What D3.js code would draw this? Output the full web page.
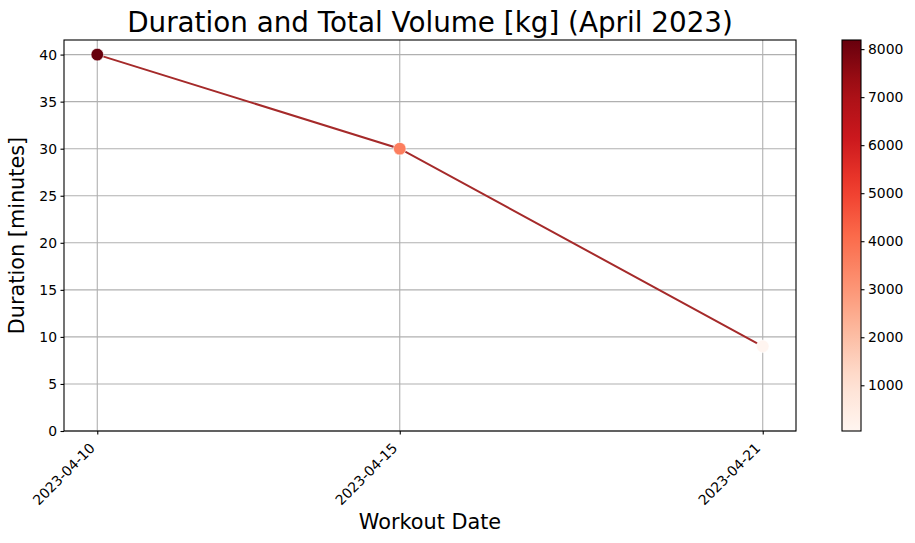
<!DOCTYPE html>
<html>
<head>
<meta charset="utf-8">
<script src="https://cdn.jsdelivr.net/npm/d3@7"></script>
<style>
  body { margin: 0; background: #fff; }
  svg { display: block; font-family: "DejaVu Sans", sans-serif; }
</style>
</head>
<body>
<svg id="chart" width="915" height="543"></svg>
<script>
// ---- data ----
const dates = ["2023-04-10", "2023-04-15", "2023-04-21"];
const durations = [40, 30, 9];
const volumes = [8190, 3600, 48];
const yTicks = [0, 5, 10, 15, 20, 25, 30, 35, 40];
const cbTicks = [1000, 2000, 3000, 4000, 5000, 6000, 7000, 8000];
const redsPalette = ["#fff5f0","#fee0d2","#fcbba1","#fc9272","#fb6a4a","#ef3b2c","#cb181d","#a50f15","#67000d"];

const svg = d3.select("#chart");
const W = 915, H = 543;
const L = 64, R = 796, T = 40, B = 431;
const cbL = 842, cbR = 861;

const parse = d3.utcParse("%Y-%m-%d");
const pts = dates.map((d, i) => ({ date: parse(d), dur: durations[i], vol: volumes[i], label: d }));

const dmin = d3.min(pts, d => d.date), dmax = d3.max(pts, d => d.date);
const pad = (dmax - dmin) * 0.05;
const x = d3.scaleUtc().domain([new Date(+dmin - pad), new Date(+dmax + pad)]).range([L, R]);
const yMaxData = d3.max(durations), yMinData = d3.min(durations);
const y = d3.scaleLinear().domain([0, yMaxData + 0.05 * (yMaxData - yMinData)]).range([B, T]);

const vmin = d3.min(volumes), vmax = d3.max(volumes);
const t = d3.scaleLinear().domain([vmin, vmax]).range([0, 1]);
const reds = d3.scaleLinear().domain(redsPalette.map((_, i) => i / (redsPalette.length - 1))).range(redsPalette).interpolate(d3.interpolateRgb);
const color = v => reds(Math.max(0, Math.min(1, t(v))));

// grid
const grid = svg.append("g");
yTicks.forEach(v => {
  grid.append("line").attr("x1", L).attr("x2", R).attr("y1", y(v)).attr("y2", y(v))
    .attr("stroke", "#b0b0b0").attr("stroke-width", 1.1);
});
pts.forEach(p => {
  grid.append("line").attr("x1", x(p.date)).attr("x2", x(p.date)).attr("y1", T).attr("y2", B)
    .attr("stroke", "#b0b0b0").attr("stroke-width", 1.1);
});

// line
const line = d3.line().x(d => x(d.date)).y(d => y(d.dur));
svg.append("path").datum(pts).attr("d", line).attr("fill", "none")
  .attr("stroke", "#a52a2a").attr("stroke-width", 2);

// points
svg.append("g").selectAll("circle").data(pts).join("circle")
  .attr("cx", d => x(d.date)).attr("cy", d => y(d.dur)).attr("r", 6.3)
  .attr("fill", d => color(d.vol)).attr("stroke", "#fff").attr("stroke-width", 0.6);

// frame
svg.append("rect").attr("x", L).attr("y", T).attr("width", R - L).attr("height", B - T)
  .attr("fill", "none").attr("stroke", "#000").attr("stroke-width", 1.1);

// y axis
const yAx = svg.append("g").attr("transform", `translate(${L},0)`)
  .call(d3.axisLeft(y).tickValues(yTicks).tickSize(3.5).tickPadding(3.5).tickFormat(d3.format("d")));
yAx.select(".domain").remove();
yAx.selectAll("line").attr("stroke", "#000").attr("stroke-width", 1.1);
yAx.selectAll("text").attr("font-size", "13.9px").attr("font-family", "DejaVu Sans").attr("fill", "#000");

// x axis
const xAx = svg.append("g").attr("transform", `translate(0,${B})`)
  .call(d3.axisBottom(x).tickValues(pts.map(p => p.date)).tickSize(3.5).tickFormat(d3.utcFormat("%Y-%m-%d")));
xAx.select(".domain").remove();
xAx.selectAll("line").attr("stroke", "#000").attr("stroke-width", 1.1);
xAx.selectAll("text")
  .attr("font-size", "13.9px").attr("font-family", "DejaVu Sans").attr("fill", "#000")
  .attr("text-anchor", "end").attr("dy", null).attr("y", null)
  .attr("transform", "translate(-2,18) rotate(-45)");

// labels
svg.append("text").attr("x", (L + R) / 2).attr("y", 32).attr("text-anchor", "middle")
  .attr("font-size", "27.8px").text("Duration and Total Volume [kg] (April 2023)");
svg.append("text").attr("x", (L + R) / 2).attr("y", 529).attr("text-anchor", "middle")
  .attr("font-size", "20.8px").text("Workout Date");
svg.append("text").attr("transform", `translate(24,${(T + B) / 2}) rotate(-90)`).attr("text-anchor", "middle")
  .attr("font-size", "20.8px").text("Duration [minutes]");

// colorbar
const defs = svg.append("defs");
const grad = defs.append("linearGradient").attr("id", "cbgrad").attr("x1", 0).attr("y1", 1).attr("x2", 0).attr("y2", 0);
d3.range(0, 1.0001, 0.05).forEach(s => {
  grad.append("stop").attr("offset", s).attr("stop-color", reds(s));
});
svg.append("rect").attr("x", cbL).attr("y", T).attr("width", cbR - cbL).attr("height", B - T)
  .attr("fill", "url(#cbgrad)").attr("stroke", "#000").attr("stroke-width", 1.1);
const cy = d3.scaleLinear().domain([vmin, vmax]).range([B, T]);
const cAx = svg.append("g").attr("transform", `translate(${cbR},0)`)
  .call(d3.axisRight(cy).tickValues(cbTicks).tickSize(3.5).tickPadding(3.5).tickFormat(d3.format("d")));
cAx.select(".domain").remove();
cAx.selectAll("line").attr("stroke", "#000").attr("stroke-width", 1.1);
cAx.selectAll("text").attr("font-size", "13.9px").attr("font-family", "DejaVu Sans").attr("fill", "#000");
</script>
</body>
</html>
